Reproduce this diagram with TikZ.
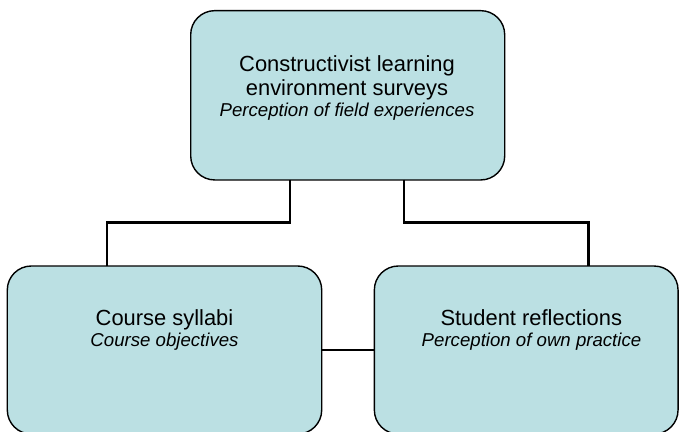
\documentclass[tikz,border=0pt]{standalone}
\usepackage{fontspec}
\setmainfont{Liberation Sans}
\definecolor{boxfill}{RGB}{187,224,227}
\begin{document}
\begin{tikzpicture}[x=1bp,y=-1bp,
  box/.style={draw=black, line width=1.4bp, fill=boxfill, rounded corners=24bp,
    inner sep=0pt, outer sep=0pt},
  conn/.style={draw=black, line width=2.4bp},
  headtext/.style={anchor=base, inner sep=0pt, font=\fontsize{22}{24}\selectfont},
  subtext/.style={anchor=base, inner sep=0pt, font=\fontsize{18.7}{22}\selectfont\itshape}]
\useasboundingbox (0,0) rectangle (679,431);

% boxes
\node[box, minimum width=314bp, minimum height=169.3bp] (T) at (347.7,95.3) {};
\node[box, minimum width=314.4bp, minimum height=168bp] (L) at (164.5,350) {};
\node[box, minimum width=303.7bp, minimum height=168bp] (R) at (526.2,350) {};

% connectors
\draw[conn] ([xshift=-57.7bp]T.south) -- ++(0,42.7) -| ([xshift=-57.8bp]L.north);
\draw[conn] ([xshift=56.3bp]T.south) -- ++(0,42.7) -| ([xshift=62.1bp]R.north);
\draw[conn] (L.east) -- (R.west);

% labels
\node[headtext] (t1) at (347,71.7) {Constructivist learning};
\node[headtext] (t2) at (347,95) {environment surveys};
\node[subtext]  (t3) at (347,116.7) {Perception of field experiences};

\node[headtext] (l1) at (164.5,325) {Course syllabi};
\node[subtext]  (l2) at (164.5,346.7) {Course objectives};

\node[headtext] (r1) at (531.3,325) {Student reflections};
\node[subtext]  (r2) at (531.5,346.7) {Perception of own practice};
\end{tikzpicture}
\end{document}
